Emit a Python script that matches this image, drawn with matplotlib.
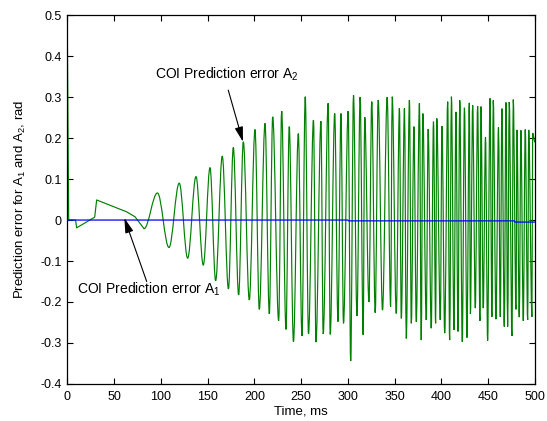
import matplotlib
matplotlib.use("Agg")
import matplotlib.pyplot as plt
from matplotlib.path import Path
from matplotlib.patches import PathPatch

# ---------------- data ----------------
# A2 prediction error: initial non-oscillating portion (polyline points)
a2_start_t = [0.0, 1.5, 8.9, 10.0, 29.3, 31.4, 63.5, 72.4, 82.0]
a2_start_v = [0.47, 0.0, 0.0, -0.019, 0.007, 0.049, 0.020, 0.008, -0.021]

# A2 prediction error: oscillation turning points (alternating extrema)
a2_ext_t = [82.0, 96.4, 108.7, 119.7, 128.7, 137.6, 145.4, 152.6, 158.6, 165.7,
            172.3, 177.5, 183.2, 188.2, 194.6, 200.7, 205.3, 211.4, 216.0, 219.6,
            226.0, 229.2, 233.8, 237.3, 241.8, 247.0, 250.9, 254.4, 257.9, 263.2,
            265.9, 271.2, 273.6, 278.9, 281.1, 285.9, 289.4, 292.6, 295.3, 300.3,
            303.0, 306.0, 309.7, 313.1, 316.3, 318.0, 322.5, 325.5, 329.2, 332.4,
            337.0, 342.0, 345.7, 347.4, 351.7, 355.1, 357.1, 360.5, 362.4, 365.8,
            367.8, 370.6, 373.1, 376.5, 378.4, 380.1, 383.8, 385.8, 389.1, 391.5,
            393.8, 395.0, 398.8, 400.6, 403.5, 406.7, 408.8, 410.7, 413.4, 415.5,
            417.7, 419.6, 422.3, 424.6, 427.3, 429.8, 431.0, 433.4, 436.2, 438.7,
            441.2, 442.3, 444.7, 447.1, 449.4, 451.9, 454.0, 455.4, 458.3, 461.0,
            462.9, 464.7, 467.2, 469.0, 470.8, 472.5, 475.4, 476.8, 479.7, 480.8,
            483.2, 485.0, 487.5, 489.6, 492.2, 493.3, 496.8, 497.5, 500.0]
a2_ext_v = [-0.021, 0.066, -0.067, 0.090, -0.093, 0.106, -0.110, 0.128, -0.148, 0.156,
            -0.168, 0.177, -0.183, 0.191, -0.195, 0.221, -0.218, 0.236, -0.229, 0.252,
            -0.246, 0.266, -0.267, 0.228, -0.297, 0.211, -0.283, 0.301, -0.278, 0.244,
            -0.298, 0.241, -0.278, 0.285, -0.279, 0.260, -0.248, 0.260, -0.252, 0.266,
            -0.344, 0.305, -0.234, 0.300, -0.280, 0.251, -0.200, 0.289, -0.226, 0.293,
            -0.220, 0.300, -0.211, 0.301, -0.228, 0.273, -0.240, 0.273, -0.289, 0.293,
            -0.252, 0.228, -0.248, 0.285, -0.293, 0.260, -0.244, 0.222, -0.264, 0.240,
            -0.252, 0.248, -0.244, 0.229, -0.276, 0.289, -0.293, 0.301, -0.268, 0.264,
            -0.272, 0.292, -0.297, 0.274, -0.287, 0.286, -0.229, 0.280, -0.215, 0.278,
            -0.246, 0.277, -0.215, 0.202, -0.294, 0.297, -0.236, 0.292, -0.242, 0.226,
            -0.236, 0.272, -0.260, 0.287, -0.260, 0.288, -0.283, 0.294, -0.218, 0.220,
            -0.237, 0.219, -0.246, 0.221, -0.244, 0.220, -0.236, 0.212, 0.190]

# A1 prediction error (almost zero)
a1_t = [0.0, 300.0, 300.5, 478.0, 478.5, 500.0]
a1_v = [0.0, 0.0, -0.002, -0.002, -0.005, -0.005]

x_ticks = [0, 50, 100, 150, 200, 250, 300, 350, 400, 450, 500]
y_ticks = [-0.4, -0.3, -0.2, -0.1, 0, 0.1, 0.2, 0.3, 0.4, 0.5]
y_tick_labels = ["-0.4", "-0.3", "-0.2", "-0.1", "0", "0.1", "0.2", "0.3", "0.4", "0.5"]

# ---------------- style ----------------
plt.rcParams["font.family"] = ["Liberation Sans", "DejaVu Sans"]
plt.rcParams["mathtext.default"] = "regular"
plt.rcParams["axes.unicode_minus"] = False

GREEN = "#008000"
BLUE = "#0000ff"

fig = plt.figure(figsize=(5.47, 4.21), dpi=100)
ax = fig.add_axes([0.123, 0.088, 0.855, 0.876])

# initial part of A2 as polyline
ax.plot(a2_start_t, a2_start_v, color=GREEN, lw=0.85, zorder=2)

# oscillating part of A2: smooth curve through the turning points
k = 0.3642
verts = [(a2_ext_t[0], a2_ext_v[0])]
codes = [Path.MOVETO]
for i in range(1, len(a2_ext_t)):
    t0, v0 = a2_ext_t[i - 1], a2_ext_v[i - 1]
    t1, v1 = a2_ext_t[i], a2_ext_v[i]
    dt = t1 - t0
    verts += [(t0 + k * dt, v0), (t1 - k * dt, v1), (t1, v1)]
    codes += [Path.CURVE4] * 3
ax.add_patch(PathPatch(Path(verts, codes), facecolor="none", edgecolor=GREEN,
                       lw=0.85, zorder=2))

ax.plot(a1_t, a1_v, color=BLUE, lw=0.9, zorder=3)

ax.set_xlim(0, 500)
ax.set_ylim(-0.4, 0.5)
ax.set_xticks(x_ticks)
ax.set_yticks(y_ticks)
ax.set_yticklabels(y_tick_labels)
ax.tick_params(direction="in", length=4, width=0.8, top=True, right=True,
               labelsize=9, colors="black")
ax.tick_params(axis="x", pad=5)
ax.tick_params(axis="y", pad=4)
for s in ax.spines.values():
    s.set_linewidth(0.9)
    s.set_color("black")

ax.set_xlabel("Time, ms", fontsize=9.5, labelpad=2)
ax.set_ylabel("Prediction error for A$_1$ and A$_2$, rad", fontsize=9.5, labelpad=9)

arrow = dict(arrowstyle="-|>,head_length=0.9,head_width=0.25", color="black",
             lw=0.8, shrinkA=0, shrinkB=0)
ax.annotate("", xy=(187.8, 0.191), xytext=(172.1, 0.317), arrowprops=arrow)
ax.text(94.0, 0.356, "COI Prediction error A$_2$", fontsize=10, ha="left", va="center")

ax.annotate("", xy=(61.0, 0.005), xytext=(84.9, -0.150), arrowprops=arrow)
ax.text(10.4, -0.168, "COI Prediction error A$_1$", fontsize=10, ha="left", va="center")

fig.savefig("out.png", dpi=100)
